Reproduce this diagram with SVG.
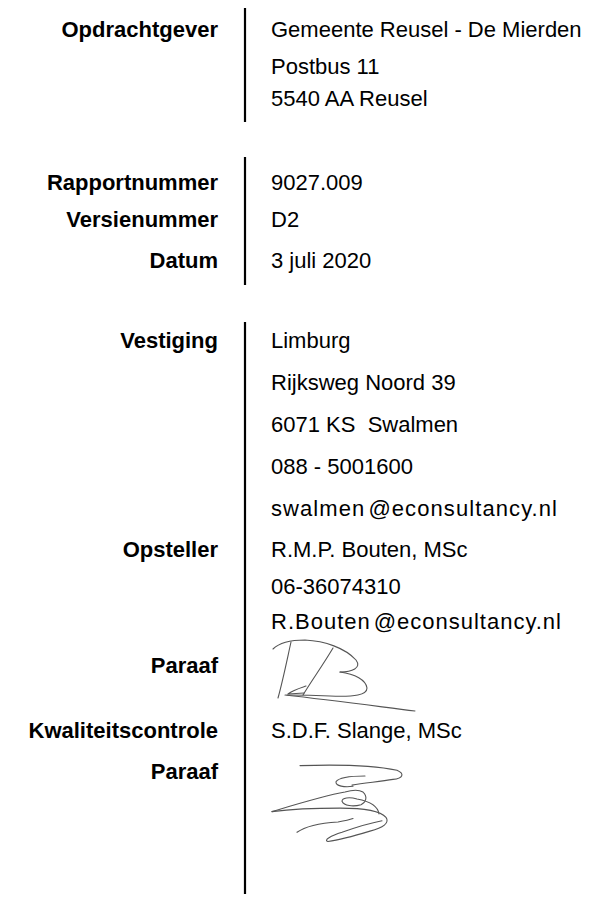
<svg xmlns="http://www.w3.org/2000/svg" width="614" height="897" viewBox="0 0 614 897">
<style>
.l{font-family:"Liberation Sans",Arial,sans-serif;font-size:22px;font-weight:bold;fill:#000;text-anchor:end}
.v{font-family:"Liberation Sans",Arial,sans-serif;font-size:22px;fill:#000}
.bar{stroke:#000;stroke-width:2.2;fill:none}
.sig{stroke:#555;stroke-width:1.1;fill:none;stroke-linecap:round;stroke-linejoin:round}
.sig path{vector-effect:non-scaling-stroke}
</style>
<rect width="614" height="897" fill="#fff"/>
<g id="connectors">
<line class="bar" x1="245" y1="8" x2="245" y2="122"/>
<line class="bar" x1="245" y1="157" x2="245" y2="285"/>
<line class="bar" x1="245" y1="322" x2="245" y2="894"/>
</g>
<g id="opdrachtgever">
<text class="l" x="218" y="37">Opdrachtgever</text>
<text class="v" x="271" y="37">Gemeente Reusel - De Mierden</text>
<text class="v" x="271" y="74">Postbus 11</text>
<text class="v" x="271" y="106">5540 AA Reusel</text>
</g>
<g id="rapport">
<text class="l" x="218" y="190">Rapportnummer</text>
<text class="v" x="271" y="190">9027.009</text>
<text class="l" x="218" y="227">Versienummer</text>
<text class="v" x="271" y="227">D2</text>
<text class="l" x="218" y="268">Datum</text>
<text class="v" x="271" y="268">3 juli 2020</text>
</g>
<g id="vestiging">
<text class="l" x="218" y="348">Vestiging</text>
<text class="v" x="271" y="348">Limburg</text>
<text class="v" x="271" y="390">Rijksweg Noord 39</text>
<text class="v" x="271" y="432" xml:space="preserve">6071 KS  Swalmen</text>
<text class="v" x="271" y="474">088 - 5001600</text>
<text class="v" x="271" y="516" textLength="286" lengthAdjust="spacing">swalmen<tspan dx="3">@</tspan>econsultancy.nl</text>
</g>
<g id="opsteller">
<text class="l" x="218" y="557">Opsteller</text>
<text class="v" x="271" y="557">R.M.P. Bouten, MSc</text>
<text class="v" x="271" y="594">06-36074310</text>
<text class="v" x="271" y="629" textLength="290" lengthAdjust="spacing">R.Bouten<tspan dx="3">@</tspan>econsultancy.nl</text>
</g>
<g id="paraaf1">
<text class="l" x="218" y="673">Paraaf</text>
<g class="sig">
<path d="M273,649 C280,642 290,640 305,640 C325,641 345,648 356,660 C362,668 352,672 340,672"/>
<path d="M291,642 C287,660 283,680 278,698"/>
<path d="M333,648 C323,665 312,680 303,695"/>
<path d="M288,694 C293,690 300,688 306,686 M288,694 L304,693"/>
<path d="M340,672 C355,674 366,680 367,688 C367,695 355,697 330,696 C310,695 295,695 287,695"/>
<path d="M285,695 C330,700 375,706 415,711"/>
</g>
</g>
<g id="kwaliteit">
<text class="l" x="218" y="738">Kwaliteitscontrole</text>
<text class="v" x="271" y="738">S.D.F. Slange, MSc</text>
</g>
<g id="paraaf2">
<text class="l" x="218" y="779">Paraaf</text>
<g class="sig" transform="translate(265,761) scale(1,1.15)">
<path d="M35,4 C70,3 110,4 132,8 C140,11 138,15 128,16 C115,18 100,19 87,21"/>
<path d="M100,13 C88,13 74,14 71,18 C70,22 80,23 88,22"/>
<path d="M7,44 C30,38 60,30 80,27 C88,25 94,25 98,27 C103,31 101,36 96,38 C88,40 79,39 77,35 C77,32 84,31 92,33 C104,35 113,39 114,46"/>
<path d="M7,44 C25,42 50,41 75,41 C100,41 116,44 121,49 C125,54 118,58 105,61 C90,65 72,69 63,70 C58,69 66,65 77,62 C90,58 105,54 117,52"/>
<path d="M32,62 C40,57 55,54 73,53 C80,52 85,51 88,50"/>
</g>
</g>
</svg>
